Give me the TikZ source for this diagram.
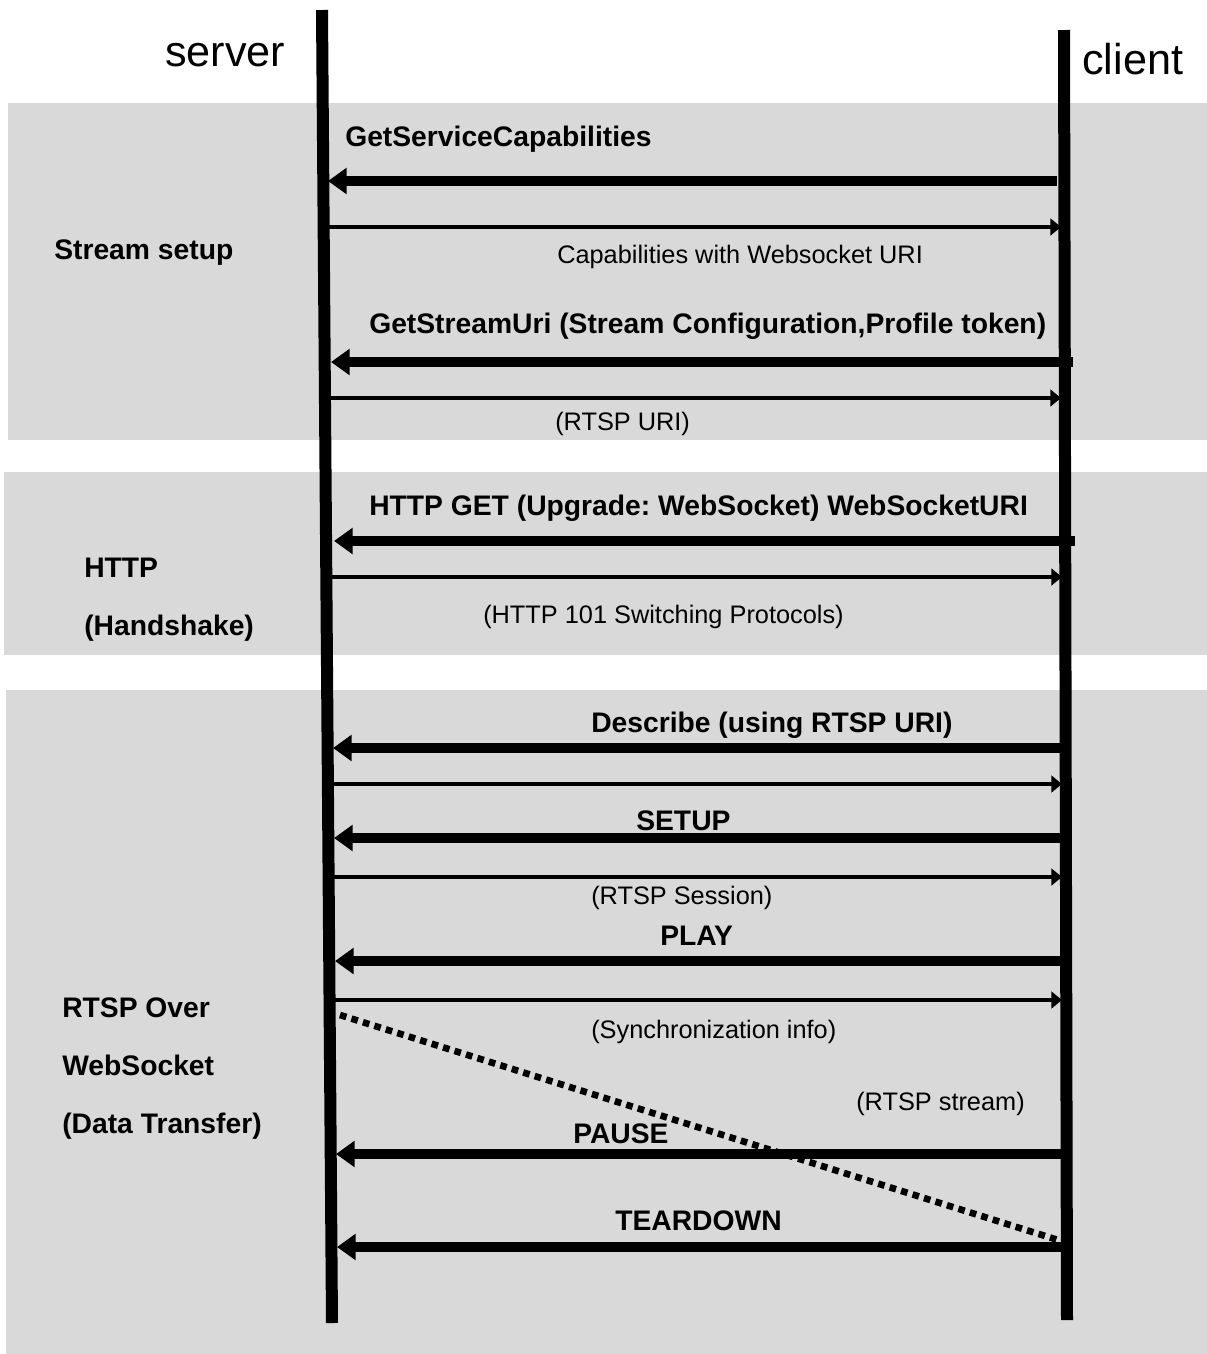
\documentclass[tikz,border=0pt]{standalone}
\usepackage{fontspec}
\setmainfont{Liberation Sans}
\usetikzlibrary{arrows.meta}
\definecolor{bandgray}{HTML}{D9D9D9}
\frenchspacing
\tikzset{
  band/.style={fill=bandgray, draw=none},
  lifeline/.style={line width=9pt, line cap=butt},
  callmsg/.style={line width=7pt, -{Triangle[length=14pt,width=19pt]}},
  replymsg/.style={line width=2.8pt, -{Triangle[length=8pt,width=12.5pt]}},
  streammsg/.style={line width=5pt, dash pattern=on 5pt off 4pt},
  boldlbl/.style={inner sep=0pt, anchor=base west, font=\fontsize{21.2}{25}\selectfont\bfseries\frenchspacing},
  plainlbl/.style={inner sep=0pt, anchor=base west, font=\fontsize{19}{23}\selectfont\frenchspacing},
  rolelbl/.style={inner sep=0pt, anchor=base west, font=\fontsize{32.4}{38}\selectfont},
}
\begin{document}
\begin{tikzpicture}[x=0.75pt,y=-0.75pt]
\useasboundingbox (0,0) rectangle (1207,1354);
\fill[white] (0,0) rectangle (1207,1354);
% bands
\fill[band] (8,103) rectangle (1207,440);
\fill[band] (4,472) rectangle (1207,655);
\fill[band] (6,690) rectangle (1207,1354);
% lifelines
\coordinate (sTop) at (322,10);
\coordinate (sBot) at (332,1323);
\coordinate (cTop) at (1064,30);
\coordinate (cBot) at (1067,1320);
\draw[lifeline] (sTop) -- (sBot);
\draw[lifeline] (cTop) -- (cBot);
% role labels
\node[rolelbl] (server) at (165,66) {server};
\node[rolelbl] (client) at (1082,74) {client};
% messages: coordinates
\coordinate (m1c) at (1057,181);  \coordinate (m1s) at (328,181);
\coordinate (m2s) at (329,227);   \coordinate (m2c) at (1061,227);
\coordinate (m3c) at (1073,362);  \coordinate (m3s) at (331,362);
\coordinate (m4s) at (330,398);   \coordinate (m4c) at (1061,398);
\coordinate (m5c) at (1075,541);  \coordinate (m5s) at (334,541);
\coordinate (m6s) at (331,577);   \coordinate (m6c) at (1062,577);
\coordinate (m7c) at (1060,748);  \coordinate (m7s) at (333,748);
\coordinate (m8s) at (333,784);   \coordinate (m8c) at (1062,784);
\coordinate (m9c) at (1060,838);  \coordinate (m9s) at (334,838);
\coordinate (m10s) at (333,877);  \coordinate (m10c) at (1062,877);
\coordinate (m11c) at (1061,961); \coordinate (m11s) at (335,961);
\coordinate (m12s) at (334,1000); \coordinate (m12c) at (1062,1000);
\coordinate (m13s) at (340,1015); \coordinate (m13c) at (1058,1240);
\coordinate (m14c) at (1061,1154);\coordinate (m14s) at (336,1154);
\coordinate (m15c) at (1061,1247);\coordinate (m15s) at (337,1247);
\draw[callmsg] (m1c) -- (m1s);
\draw[replymsg] (m2s) -- (m2c);
\draw[callmsg] (m3c) -- (m3s);
\draw[replymsg] (m4s) -- (m4c);
\draw[callmsg] (m5c) -- (m5s);
\draw[replymsg] (m6s) -- (m6c);
\draw[callmsg] (m7c) -- (m7s);
\draw[replymsg] (m8s) -- (m8c);
\draw[callmsg] (m9c) -- (m9s);
\draw[replymsg] (m10s) -- (m10c);
\draw[callmsg] (m11c) -- (m11s);
\draw[replymsg] (m12s) -- (m12c);
\draw[callmsg] (m14c) -- (m14s);
\draw[callmsg] (m15c) -- (m15s);
% message labels
\node[boldlbl] (l1) at (345,146) {GetServiceCapabilities};
\node[plainlbl] (l2) at (557,263) {Capabilities with Websocket URI};
\node[boldlbl] (l3) at (369,333) {GetStreamUri (Stream Configuration,Profile token)};
\node[plainlbl] (l4) at (555,430) {(RTSP URI)};
\node[boldlbl] (l5) at (369,515) {HTTP GET (Upgrade:\ WebSocket) WebSocketURI};
\node[plainlbl] (l6) at (483,623) {(HTTP 101 Switching Protocols)};
\node[boldlbl] (l7) at (591,732) {Describe (using RTSP URI)};
\node[boldlbl] (l9) at (636,830) {SETUP};
\node[plainlbl] (l10) at (591,904) {(RTSP Session)};
\node[boldlbl] (l11) at (660,945) {PLAY};
\node[plainlbl] (l12) at (591,1038) {(Synchronization info)};
\node[plainlbl] (l13) at (856,1110) {(RTSP stream)};
\node[boldlbl] (l14) at (573,1143) {PAUSE};
\node[boldlbl] (l15) at (615,1230) {TEARDOWN};
% stream (dotted)
\draw[streammsg] (m13s) -- (m13c);
% phase labels
\node[boldlbl] (p1) at (54,259) {Stream setup};
\node[boldlbl] (p2a) at (84,577) {HTTP};
\node[boldlbl] (p2b) at (84,635) {(Handshake)};
\node[boldlbl] (p3a) at (62,1017) {RTSP Over};
\node[boldlbl] (p3b) at (62,1075) {WebSocket};
\node[boldlbl] (p3c) at (62,1133) {(Data Transfer)};
\end{tikzpicture}
\end{document}
